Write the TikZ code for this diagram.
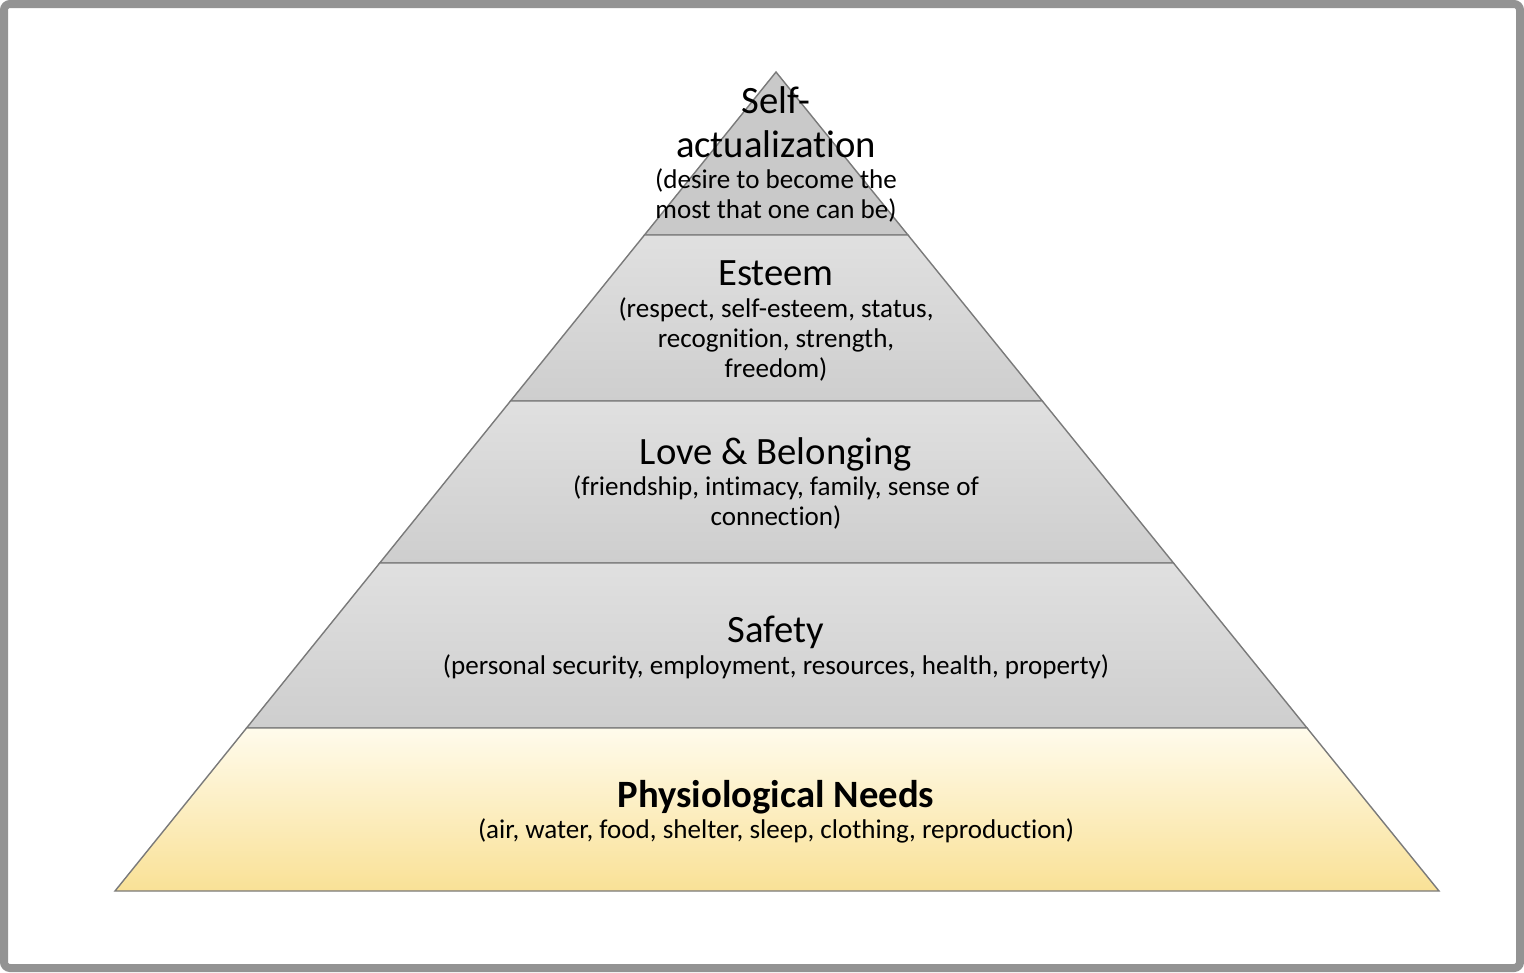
\documentclass[tikz,border=0pt]{standalone}
\usepackage{fontspec}
\setmainfont[Ligatures={NoCommon}]{Carlito}
\usetikzlibrary{positioning,calc}
\definecolor{edgegray}{HTML}{7A7A7A}
\definecolor{framegray}{HTML}{939393}
\definecolor{laytop}{HTML}{E0E0E0}
\definecolor{laybot}{HTML}{CECECE}
\definecolor{apexgray}{HTML}{C9C9C9}
\definecolor{basetop}{HTML}{FFFBEC}
\definecolor{basebot}{HTML}{F9E196}

\begin{document}
\begin{tikzpicture}[
  x=0.01cm, y=-0.01cm,
  layer/.style={draw=edgegray, line width=0.4pt, top color=laytop, bottom color=laybot},
  ttl/.style={font=\fontsize{11}{12.5}\selectfont, align=center, inner sep=0pt, anchor=base},
  dsc/.style={font=\fontsize{7.7}{8.5}\selectfont, align=center, inner sep=0pt, anchor=base}
]
\useasboundingbox (0,0) rectangle (1524,972);
\draw[framegray, line width=0.08cm, rounded corners=0.06cm] (4,4) rectangle (1520,968);

\coordinate (apex) at (776,72);
\coordinate (bl) at (115,891);
\coordinate (br) at (1439,891);
\foreach \t/\n in {0.199/1,0.4017/2,0.5995/3,0.801/4}{
  \coordinate (l\n) at ($(apex)!\t!(bl)$);
  \coordinate (r\n) at ($(apex)!\t!(br)$);
}

\path[layer, top color=apexgray, bottom color=apexgray] (apex) -- (r1) -- (l1) -- cycle;
\path[layer] (l1) -- (r1) -- (r2) -- (l2) -- cycle;
\path[layer] (l2) -- (r2) -- (r3) -- (l3) -- cycle;
\path[layer] (l3) -- (r3) -- (r4) -- (l4) -- cycle;
\path[layer, top color=basetop, bottom color=basebot] (l4) -- (r4) -- (br) -- (bl) -- cycle;

\node[ttl] (selfT) at (776,157) {Self-\\actualization};
\node[dsc] (selfD) at (776,218) {(desire to become the\\most that one can be)};
\node[ttl] (estT) at (776,285) {Esteem};
\node[dsc] (estD) at (776,377) {(respect, self-esteem, status,\\recognition, strength,\\freedom)};
\node[ttl] (loveT) at (776,464) {Love \& Belonging};
\node[dsc] (loveD) at (776,525) {(friendship, intimacy, family, sense of\\connection)};
\node[ttl] (safeT) at (776,642) {Safety};
\node[dsc] (safeD) at (776,674) {(personal security, employment, resources, health, property)};
\node[ttl, font=\fontsize{11}{12.5}\selectfont\bfseries] (physT) at (776,807) {Physiological Needs};
\node[dsc] (physD) at (776,838) {(air, water, food, shelter, sleep, clothing, reproduction)};
\end{tikzpicture}
\end{document}
